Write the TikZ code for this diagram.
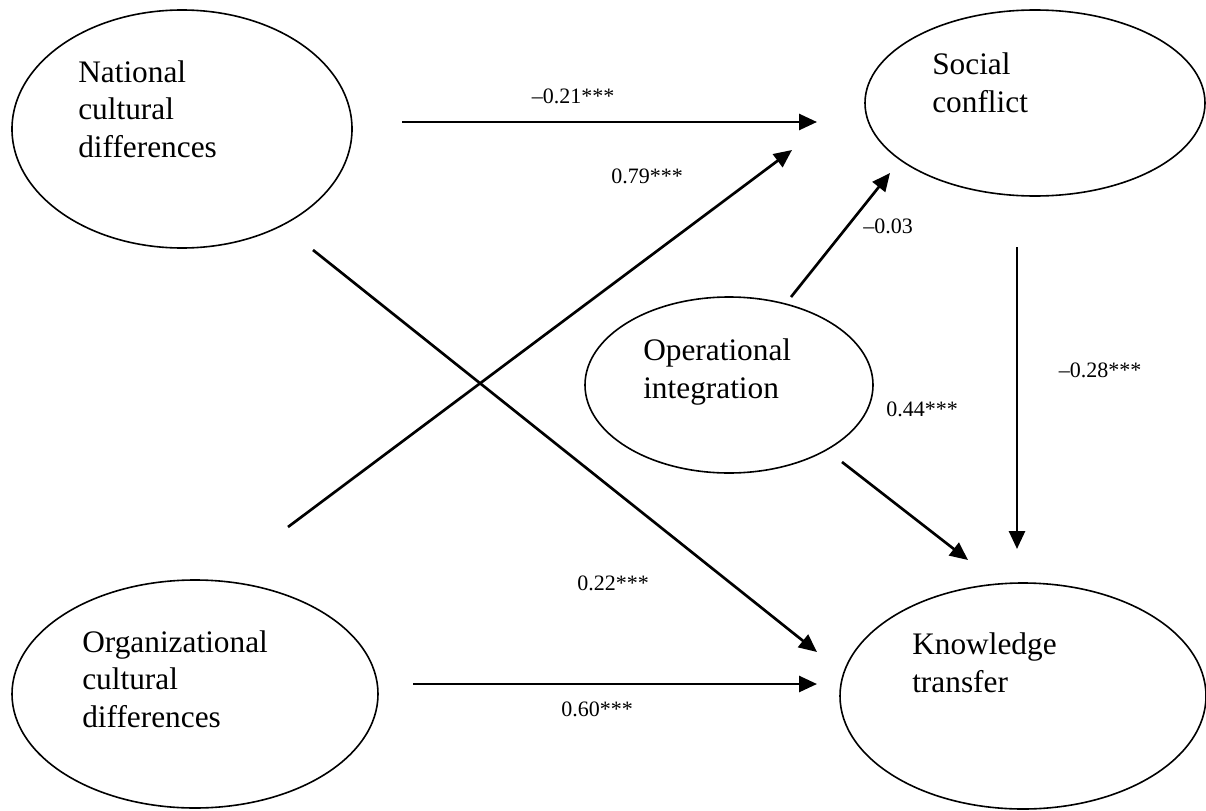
\documentclass[tikz,border=0pt]{standalone}
\usepackage{fontspec}
\setmainfont{Liberation Serif}
\usetikzlibrary{arrows.meta,shapes.geometric}
\begin{document}
\begin{tikzpicture}[x=0.75pt,y=-0.75pt,
  construct/.style={draw,ellipse,line width=1.2pt,inner sep=0pt,outer sep=0pt},
  nodetext/.style={anchor=base west,align=left,inner sep=0pt,font=\fontsize{23.5pt}{28pt}\selectfont},
  coef/.style={inner sep=0pt,font=\fontsize{16.5pt}{20pt}\selectfont},
  path/.style={line width=2pt,-{Triangle[length=13.5pt,width=12pt]}}]
\useasboundingbox (0,0) rectangle (1206,810);
% constructs
\node[construct,minimum width=255pt,minimum height=178.5pt] (nat) at (182,129) {};
\node[construct,minimum width=255pt,minimum height=139.5pt] (soc) at (1035,103) {};
\node[construct,minimum width=216pt,minimum height=132pt] (op) at (729,385) {};
\node[construct,minimum width=274.5pt,minimum height=171pt] (org) at (195,694) {};
\node[construct,minimum width=274.5pt,minimum height=169.5pt] (kt) at (1023,696) {};
% texts
\node[nodetext] (natT) at (78,157) {National\\cultural\\differences};
\node[nodetext] (socT) at (932,112) {Social\\conflict};
\node[nodetext] (opT) at (643,398) {Operational\\integration};
\node[nodetext] (orgT) at (82,727) {Organizational\\cultural\\differences};
\node[nodetext] (ktT) at (912,692) {Knowledge\\transfer};
% endpoints
\coordinate (a1s) at (402,122); \coordinate (a1e) at (817,122);
\coordinate (a2s) at (288,527); \coordinate (a2e) at (792,150);
\coordinate (a3s) at (313,250); \coordinate (a3e) at (817,652);
\coordinate (a4s) at (413,684); \coordinate (a4e) at (817,684);
\coordinate (a5s) at (791,297); \coordinate (a5e) at (890,173);
\coordinate (a6s) at (842,462); \coordinate (a6e) at (968,560);
\coordinate (a7s) at (1017,247); \coordinate (a7e) at (1017,549);
\draw[path] (a1s) -- (a1e);
\draw[path] (a2s) -- (a2e);
\draw[path] (a3s) -- (a3e);
\draw[path] (a4s) -- (a4e);
\draw[path] (a5s) -- (a5e);
\draw[path] (a6s) -- (a6e);
\draw[path] (a7s) -- (a7e);
% coefficients
\node[coef] (c1) at (573,96) {–0.21***};
\node[coef] (c2) at (647,176) {0.79***};
\node[coef] (c3) at (613,583) {0.22***};
\node[coef] (c4) at (597,709) {0.60***};
\node[coef] (c5) at (888,226) {–0.03};
\node[coef] (c6) at (922,409) {0.44***};
\node[coef] (c7) at (1100,370) {–0.28***};
\end{tikzpicture}
\end{document}
